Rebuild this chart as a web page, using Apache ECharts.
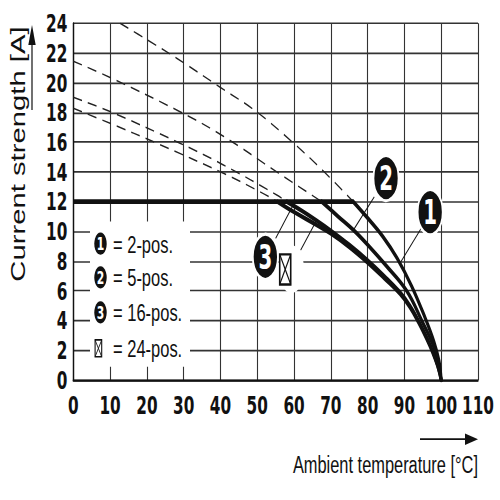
<!DOCTYPE html>
<html>
<head>
<meta charset="utf-8">
<script src="https://cdn.jsdelivr.net/npm/echarts@6/dist/echarts.min.js"></script>
<style>
html,body{margin:0;padding:0;background:#fff;width:500px;height:500px;overflow:hidden;}
#c{width:500px;height:333px;transform:scaleY(1.5015);transform-origin:0 0;}
</style>
</head>
<body>
<div id="c"></div>
<script>
// ---- data (x = ambient temperature °C, y = current A) ----
const limit12A = [[0, 12], [76.1, 12]];

const derating2pos  = [[76.1,12],[80,10.9],[84,9.7],[88,8.2],[92,6.3],[95.6,4.2],[98,2.6],[99.4,1.3],[100,0]];
const derating5pos  = [[67.5,12],[72,11.0],[76.1,10.1],[80,9.1],[85,7.7],[90.6,6.0],[94.7,4.0],[98.3,2.0],[100,0]];
const derating16pos = [[58,12],[62,11.4],[66,10.75],[70,10.05],[75,9.1],[80,8.05],[84.5,7.0],[88.8,5.9],[91.5,5.0],[93.8,4.0],[96,2.9],[97.6,2.0],[99,1.0],[100,0]];
const derating24pos = [[55.5,12],[60,11.3],[66,10.45],[70,9.85],[75,8.95],[80,7.9],[84.5,6.85],[88.8,5.8],[91.5,4.9],[93.8,3.9],[96,2.8],[97.6,1.9],[99,0.95],[100,0]];

const ext2pos  = [[12.7,24],[20,22.9],[28.1,21.65],[39.9,19.7],[49.8,18.05],[59.8,15.95],[68,14.05],[76.1,12]];
const ext5pos  = [[0,21.45],[10,20.35],[29,18.05],[40.8,16.4],[55.3,14.0],[67.5,12]];
const ext16pos = [[0,19.02],[10,18.06],[29,15.93],[40.8,14.47],[55.3,12.45],[58,12]];
const ext24pos = [[0,18.28],[10,17.27],[22.7,15.93],[40.8,13.91],[50.7,12.67],[55.5,12]];

const seriesNames  = ['2-pos.', '5-pos.', '16-pos.', '24-pos.'];
const legendLabels = ['= 2-pos.', '= 5-pos.', '= 16-pos.', '= 24-pos.'];
const badgeLabels  = ['1', '2', '3'];

const xMin = 0, xMax = 110, xStep = 10;
const yMin = 0, yMax = 24, yStep = 2;

const xTitle = 'Ambient temperature [°C]';
const yTitle = 'Current strength [A]';

// annotation anchors (data units)
const badgeAnchors   = [[97.0, 11.3], [85.0, 13.58], [52.2, 8.29]];
const pointerFrom    = [[94.6, 10.22], [81.8, 12.32], [55.0, 9.53], [61.8, 8.74]];
const pointerTo      = [[88.9, 7.9], [76.1, 10.08], [60.0, 11.88], [65.9, 10.64]];
const marker24Anchor = [57.6, 7.44];
const halo24Anchor   = [59.3, 7.46];

// ---- chart ----
const INK = '#111';
const NARROW = "'Liberation Sans Narrow','Arial Narrow','DejaVu Sans Condensed',sans-serif";
const SANS = "'Liberation Sans',Arial,sans-serif";

const chart = echarts.init(document.getElementById('c'), null, {renderer: 'svg'});

const solid = (name, data) => ({
  name, type: 'line', data, symbol: 'none', smooth: 0.4,
  lineStyle: {color: INK, width: 2.9, cap: 'round', join: 'round'}, z: 5
});
const dashed = (name, data) => ({
  name: name + ' ext', type: 'line', data, symbol: 'none', smooth: 0.4,
  lineStyle: {color: '#222', width: 1, type: [9, 6]}, z: 4
});

chart.setOption({
  animation: false,
  grid: {left: 73.3, right: 22, top: 15.5, bottom: 79.9},
  xAxis: {
    type: 'value', min: xMin, max: xMax, interval: xStep,
    axisLine: {show: true, lineStyle: {color: INK, width: 1.4}},
    axisTick: {show: false},
    axisLabel: {margin: 8, color: INK, fontFamily: NARROW, fontWeight: 'bold', fontSize: 17},
    splitLine: {show: true, lineStyle: {color: '#333', width: 1.1}}
  },
  yAxis: {
    type: 'value', min: yMin, max: yMax, interval: yStep,
    axisLine: {show: true, lineStyle: {color: INK, width: 1.4}},
    axisTick: {show: false},
    axisLabel: {margin: 6, color: INK, fontFamily: NARROW, fontWeight: 'bold', fontSize: 17, lineHeight: 17},
    splitLine: {show: true, lineStyle: {color: '#333', width: 1.1}}
  },
  series: [
    dashed(seriesNames[0], ext2pos),
    dashed(seriesNames[1], ext5pos),
    dashed(seriesNames[2], ext16pos),
    dashed(seriesNames[3], ext24pos),
    {name: '12 A limit', type: 'line', data: limit12A, symbol: 'none',
     lineStyle: {color: INK, width: 3.2}, z: 5},
    solid(seriesNames[0], derating2pos),
    solid(seriesNames[1], derating5pos),
    solid(seriesNames[2], derating16pos),
    solid(seriesNames[3], derating24pos)
  ]
});

const toPx = p => chart.convertToPixel({gridIndex: 0}, p);
const txt = (x, y, text, font, fill, align, extra) => Object.assign({
  type: 'text', x, y, z: 30,
  style: {text, font, fill, align: align, textAlign: align, verticalAlign: 'middle', textVerticalAlign: 'middle'}
}, extra || {});
const ellipse = (cx, cy, rx, ry, fill, stroke, lw, z) => ({
  type: 'circle', x: cx, y: cy, scaleX: rx / ry, shape: {cx: 0, cy: 0, r: ry},
  style: {fill, stroke, lineWidth: lw}, z
});
const boxX = (cx, cy, w, h, lw, z) => ({
  type: 'group', x: cx, y: cy, z,
  children: [
    {type: 'rect', shape: {x: -w/2, y: -h/2, width: w, height: h}, style: {fill: '#fff', stroke: INK, lineWidth: lw}, z},
    {type: 'line', shape: {x1: -w/2, y1: -h/2, x2: w/2, y2: h/2}, style: {stroke: INK, lineWidth: lw * 0.7}, z},
    {type: 'line', shape: {x1: w/2, y1: -h/2, x2: -w/2, y2: h/2}, style: {stroke: INK, lineWidth: lw * 0.7}, z}
  ]
});

const g = [];
for (let i = 0; i < pointerFrom.length; i++) {
  const a = toPx(pointerFrom[i]), b = toPx(pointerTo[i]);
  g.push({type: 'line', shape: {x1: a[0], y1: a[1], x2: b[0], y2: b[1]}, style: {stroke: INK, lineWidth: 0.9}, z: 24});
}
badgeAnchors.forEach((p, i) => {
  const c = toPx(p);
  g.push(ellipse(c[0], c[1], 12.6, 15, INK, '#fff', 2.2, 25));
  g.push(txt(c[0], c[1] + 0.5, badgeLabels[i], 'bold 22px ' + NARROW, '#fff', 'center', {z: 26}));
});
{
  const h = toPx(halo24Anchor), m = toPx(marker24Anchor);
  g.push(ellipse(h[0], h[1], 12.5, 16, '#fff', null, 0, 25));
  g.push(boxX(m[0], m[1], 11, 20, 1.6, 26));
}
g.push({type: 'rect', shape: {x: 90, y: 147.6, width: 100, height: 96.6}, style: {fill: '#fff'}, z: 20});
const legendY = [162.3, 184.8, 208.1, 232.0];
legendLabels.forEach((lab, i) => {
  if (i < 3) {
    g.push(ellipse(100.5, legendY[i], 6.2, 7.4, INK, null, 0, 21));
    g.push(txt(100.5, legendY[i] + 0.4, badgeLabels[i], 'bold 12px ' + NARROW, '#fff', 'center', {z: 22}));
  } else {
    g.push(boxX(98.4, legendY[i], 6.6, 11.2, 1.1, 21));
  }
  g.push(txt(113, legendY[i], lab, '16.5px ' + SANS, INK, 'left', {z: 22}));
});
g.push(txt(478, 309, xTitle, '16.4px ' + SANS, INK, 'right'));
g.push({type: 'line', shape: {x1: 420, y1: 292.5, x2: 468, y2: 292.5}, style: {stroke: INK, lineWidth: 1.1}, z: 30});
g.push({type: 'polygon', shape: {points: [[478, 292.5], [465, 288.7], [465, 296.3]]}, style: {fill: INK}, z: 30});
g.push(txt(18, 102.6, yTitle, '19.5px ' + SANS, INK, 'center', {rotation: Math.PI / 2}));
g.push({type: 'line', shape: {x1: 32, y1: 73.3, x2: 32, y2: 28}, style: {stroke: INK, lineWidth: 1.2}, z: 30});
g.push({type: 'polygon', shape: {points: [[32, 16.6], [28.3, 30], [35.7, 30]]}, style: {fill: INK}, z: 30});

chart.setOption({graphic: {elements: g}});
</script>
</body>
</html>
